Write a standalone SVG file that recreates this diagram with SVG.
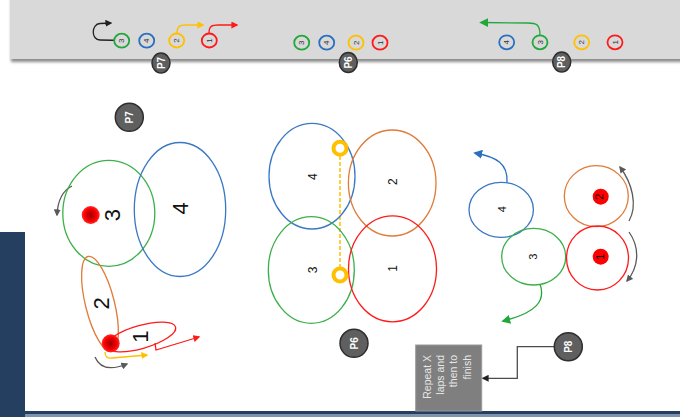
<svg xmlns="http://www.w3.org/2000/svg" width="680" height="417" viewBox="0 0 680 417">
<defs>
<style>
.t{font-family:"Liberation Sans",Arial,sans-serif;text-anchor:middle;dominant-baseline:central}
.ring{fill:#d9d9d9;stroke-width:1.8}
.big{fill:none;stroke-width:1.3}
.arr{fill:none;stroke-width:1.3}
.badge{fill:#5f5f5f;stroke:#2e2e2e;stroke-width:1.5}
.bt{fill:#fff;font-size:10px;font-weight:bold}
</style>
<filter id="sh" x="-5%" y="-20%" width="110%" height="150%"><feDropShadow dx="1" dy="3" stdDeviation="1.5" flood-color="#000" flood-opacity="0.45"/></filter>
<radialGradient id="dot"><stop offset="0" stop-color="#a00000"/><stop offset="0.45" stop-color="#d40000"/><stop offset="0.7" stop-color="#ff0000"/><stop offset="1" stop-color="#ff2a2a"/></radialGradient>
<marker id="mk" viewBox="0 0 10 10" refX="8" refY="5" markerWidth="7" markerHeight="7" orient="auto" markerUnits="userSpaceOnUse"><path d="M0,0 L10,5 L0,10 z" fill="#222"/></marker>
<marker id="mg" viewBox="0 0 10 10" refX="8" refY="5" markerWidth="7" markerHeight="7" orient="auto" markerUnits="userSpaceOnUse"><path d="M0,0 L10,5 L0,10 z" fill="#595959"/></marker>
<marker id="my" viewBox="0 0 10 10" refX="8" refY="5" markerWidth="7" markerHeight="7" orient="auto" markerUnits="userSpaceOnUse"><path d="M0,0 L10,5 L0,10 z" fill="#ffc000"/></marker>
<marker id="mr" viewBox="0 0 10 10" refX="8" refY="5" markerWidth="7" markerHeight="7" orient="auto" markerUnits="userSpaceOnUse"><path d="M0,0 L10,5 L0,10 z" fill="#ff1a1a"/></marker>
<marker id="mgr" viewBox="0 0 10 10" refX="8" refY="5" markerWidth="9" markerHeight="9" orient="auto" markerUnits="userSpaceOnUse"><path d="M0,0 L10,5 L0,10 z" fill="#22a83a"/></marker>
<marker id="mb" viewBox="0 0 10 10" refX="8" refY="5" markerWidth="9" markerHeight="9" orient="auto" markerUnits="userSpaceOnUse"><path d="M0,0 L10,5 L0,10 z" fill="#2a6fc0"/></marker>
</defs>
<rect width="680" height="417" fill="#fff"/>

<!-- top band -->
<rect x="10" y="-5" width="680" height="64" fill="#d9d9d9" filter="url(#sh)"/>
<!-- frame -->
<rect x="0" y="232" width="25" height="185" fill="#243f60"/>
<rect x="25" y="411" width="655" height="3" fill="#243f60"/>
<rect x="25" y="414" width="655" height="3" fill="#7f93ad"/>

<g id="connectors">
 <!-- top band arrows -->
 <path class="arr" stroke="#222" d="M124,40.5 L100,40 C91,40 91,24 100,23.5 L111,23" marker-end="url(#mk)"/>
 <path class="arr" stroke="#ffc000" d="M177,33 C177,26 180,25 186,25 L203,25" marker-end="url(#my)"/>
 <path class="arr" stroke="#ff1a1a" d="M209,33 C209,26 212,25 218,25 L237,25" marker-end="url(#mr)"/>
 <path class="arr" stroke="#22a83a" d="M540,35 C540,24 536,23 528,23 L481,22.5" marker-end="url(#mgr)"/>
 <!-- P7 arrows -->
 <path class="arr" stroke="#595959" d="M72,186 Q58,193 57,215" marker-end="url(#mg)"/>
 <path class="arr" stroke="#ff1a1a" d="M155,343 L156,350 L199,337" marker-end="url(#mr)"/>
 <path class="arr" stroke="#ffc000" d="M105,352 Q105,359 112,358 L147,355" marker-end="url(#my)"/>
 <path class="arr" stroke="#595959" d="M95,357 Q102,374 127,364" marker-end="url(#mg)"/>
 <!-- P6 dashed -->
 <line x1="340" y1="156" x2="340" y2="267" stroke="#ffc000" stroke-width="1.5" stroke-dasharray="4 2"/>
 <!-- P8 arrows -->
 <path class="arr" stroke="#2a6fc0" stroke-width="2" d="M507,182 C508,164 497,157 475,153" marker-end="url(#mb)"/>
 <path class="arr" stroke="#22a83a" stroke-width="2" d="M540,284 C546,301 536,313 503,321" marker-end="url(#mgr)"/>
 <path class="arr" stroke="#595959" d="M629,221 C638,205 632,183 620,167" marker-end="url(#mg)"/>
 <path class="arr" stroke="#595959" d="M629,232 C641,249 638,268 627,281" marker-end="url(#mg)"/>
 <path class="arr" stroke="#4d4d4d" d="M554,346.7 L517.3,346.7 L517.3,378.3 L483,378.3" marker-end="url(#mk)"/>
</g>

<!-- top band rings -->
<g id="top-p7">
 <ellipse class="ring" stroke="#22a83a" cx="121.7" cy="40.7" rx="7.5" ry="7"/><text class="t" font-size="8" fill="#333" transform="translate(121.7,40.7) rotate(-90)">3</text>
 <ellipse class="ring" stroke="#2a6fc0" cx="146.7" cy="40.7" rx="7.5" ry="7"/><text class="t" font-size="8" fill="#333" transform="translate(146.7,40.7) rotate(-90)">4</text>
 <ellipse class="ring" stroke="#ffc000" cx="176.7" cy="40.5" rx="7.5" ry="7"/><text class="t" font-size="8" fill="#333" transform="translate(176.7,40.5) rotate(-90)">2</text>
 <ellipse class="ring" stroke="#ff1a1a" cx="209.3" cy="40.5" rx="7.5" ry="7"/><text class="t" font-size="8" fill="#333" transform="translate(209.3,40.5) rotate(-90)">1</text>
 <ellipse class="badge" cx="161" cy="63" rx="9" ry="10"/><text class="t bt" font-size="8" transform="translate(161,63) rotate(-90)">P7</text>
</g>
<g id="top-p6">
 <ellipse class="ring" stroke="#22a83a" cx="301.7" cy="42.7" rx="7.5" ry="7"/><text class="t" font-size="8" fill="#333" transform="translate(301.7,42.7) rotate(-90)">3</text>
 <ellipse class="ring" stroke="#2a6fc0" cx="326.7" cy="42.7" rx="7.5" ry="7"/><text class="t" font-size="8" fill="#333" transform="translate(326.7,42.7) rotate(-90)">4</text>
 <ellipse class="ring" stroke="#ffc000" cx="356" cy="42.7" rx="7.5" ry="7"/><text class="t" font-size="8" fill="#333" transform="translate(356,42.7) rotate(-90)">2</text>
 <ellipse class="ring" stroke="#ff1a1a" cx="380" cy="42.7" rx="7.5" ry="7"/><text class="t" font-size="8" fill="#333" transform="translate(380,42.7) rotate(-90)">1</text>
 <ellipse class="badge" cx="348.3" cy="62.5" rx="9" ry="10"/><text class="t bt" font-size="8" transform="translate(348.3,62.5) rotate(-90)">P6</text>
</g>
<g id="top-p8">
 <ellipse class="ring" stroke="#2a6fc0" cx="506.7" cy="42.3" rx="7.5" ry="7"/><text class="t" font-size="8" fill="#333" transform="translate(506.7,42.3) rotate(-90)">4</text>
 <ellipse class="ring" stroke="#22a83a" cx="540" cy="42.3" rx="7.5" ry="7"/><text class="t" font-size="8" fill="#333" transform="translate(540,42.3) rotate(-90)">3</text>
 <ellipse class="ring" stroke="#ffc000" cx="581.7" cy="42.3" rx="7.5" ry="7"/><text class="t" font-size="8" fill="#333" transform="translate(581.7,42.3) rotate(-90)">2</text>
 <ellipse class="ring" stroke="#ff1a1a" cx="615" cy="42.3" rx="7.5" ry="7"/><text class="t" font-size="8" fill="#333" transform="translate(615,42.3) rotate(-90)">1</text>
 <ellipse class="badge" cx="561.7" cy="62" rx="9" ry="10"/><text class="t bt" font-size="8" transform="translate(561.7,62) rotate(-90)">P8</text>
</g>

<!-- P7 diagram -->
<g id="p7">
 <circle class="badge" cx="129.3" cy="117.3" r="14"/><text class="t bt" font-size="11" transform="translate(129.3,117.3) rotate(-90)">P7</text>
 <ellipse class="big" stroke="#3cb04a" cx="108.8" cy="213.3" rx="46" ry="53"/>
 <ellipse class="big" stroke="#3a78c3" cx="180" cy="209.5" rx="45.7" ry="67"/>
 <ellipse class="big" stroke="#e07b39" cx="100" cy="304" rx="14.5" ry="49" transform="rotate(-14 100 304)"/>
 <ellipse class="big" stroke="#ff1a1a" cx="141" cy="337" rx="36" ry="11.5" transform="rotate(-16 141 337)"/>
 <circle cx="90.7" cy="215" r="9" fill="url(#dot)"/>
 <circle cx="110.7" cy="343.3" r="9" fill="url(#dot)"/>
 <text class="t" font-size="22" fill="#111" transform="translate(112,215) rotate(-90)">3</text>
 <text class="t" font-size="22" fill="#111" transform="translate(180,208.3) rotate(-90)">4</text>
 <text class="t" font-size="22" fill="#111" transform="translate(101.7,303.3) rotate(-90)">2</text>
 <text class="t" font-size="22" fill="#111" transform="translate(140,336.7) rotate(-90)">1</text>
</g>

<!-- P6 diagram -->
<g id="p6">
 <ellipse class="big" stroke="#3a78c3" cx="312" cy="176.2" rx="43" ry="52.8"/>
 <ellipse class="big" stroke="#e07b39" cx="392.2" cy="183" rx="43.8" ry="53"/>
 <ellipse class="big" stroke="#3cb04a" cx="311.3" cy="270" rx="43" ry="53.3"/>
 <ellipse class="big" stroke="#ff1a1a" cx="392.5" cy="268.8" rx="44" ry="53"/>
 <text class="t" font-size="12" fill="#111" transform="translate(313.3,176.7) rotate(-90)">4</text>
 <text class="t" font-size="12" fill="#111" transform="translate(393.3,181.7) rotate(-90)">2</text>
 <text class="t" font-size="12" fill="#111" transform="translate(313.3,270) rotate(-90)">3</text>
 <text class="t" font-size="12" fill="#111" transform="translate(393.3,268.3) rotate(-90)">1</text>
 <circle cx="340" cy="148.3" r="6.5" fill="#fff" stroke="#ffc000" stroke-width="4"/>
 <circle cx="340" cy="275" r="6.5" fill="#fff" stroke="#ffc000" stroke-width="4"/>
 <circle class="badge" cx="354" cy="343.3" r="14"/><text class="t bt" font-size="11" transform="translate(354,343.3) rotate(-90)">P6</text>
</g>

<!-- P8 diagram -->
<g id="p8">
 <ellipse class="big" stroke="#3a78c3" cx="501.2" cy="209.8" rx="32.2" ry="27.5"/>
 <ellipse class="big" stroke="#3cb04a" cx="533.7" cy="256.7" rx="32" ry="28.3"/>
 <ellipse class="big" stroke="#e07b39" cx="596.3" cy="196.2" rx="32" ry="30.5"/>
 <ellipse class="big" stroke="#ff1a1a" cx="597.5" cy="258" rx="31" ry="32"/>
 <circle cx="600.7" cy="196.7" r="8" fill="#ff0000"/>
 <circle cx="600.7" cy="256.7" r="8" fill="#ff0000"/>
 <text class="t" font-size="11" fill="#111" transform="translate(501.7,209.3) rotate(-90)">4</text>
 <text class="t" font-size="11" fill="#111" transform="translate(533.3,256.7) rotate(-90)">3</text>
 <text class="t" font-size="11" fill="#111" transform="translate(599.3,196.7) rotate(-90)">2</text>
 <text class="t" font-size="11" fill="#111" transform="translate(600,256.7) rotate(-90)">1</text>
 <circle class="badge" cx="568.3" cy="346.7" r="14"/><text class="t bt" font-size="11" transform="translate(568.3,346.7) rotate(-90)">P8</text>
</g>

<g id="note">
 <rect x="415.7" y="345" width="66" height="66" fill="#7f7f7f" stroke="#999" stroke-width="1"/>
 <g font-family="Liberation Sans,Arial,sans-serif" font-size="10.5" fill="#e6e6e6" text-anchor="end">
  <text transform="translate(430.5,355) rotate(-90)">Repeat X</text>
  <text transform="translate(444,355) rotate(-90)">laps and</text>
  <text transform="translate(457,355) rotate(-90)">then to</text>
  <text transform="translate(471,355) rotate(-90)">finish</text>
 </g>
</g>
</svg>
